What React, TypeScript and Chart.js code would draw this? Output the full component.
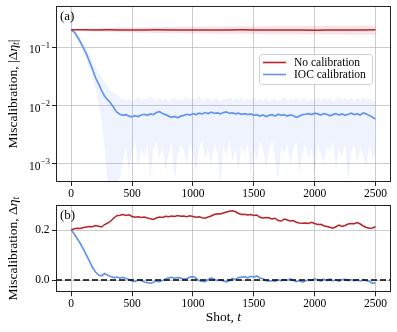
import React, { useEffect, useRef } from "react";
import { Chart, registerables } from "chart.js";

Chart.register(...registerables);

// ---------- data ----------
const SHOTS: number[] = Array.from({ length: 101 }, (_, i) => i * 25);
const SHOTS_COARSE: number[] = Array.from({ length: 26 }, (_, i) => i * 100);
const X_TICKS = [0, 500, 1000, 1500, 2000, 2500];
const X_MIN = -125;
const X_MAX = 2625;
const TOP_Y_TICKS = [1e-3, 1e-2, 1e-1];
const TOP_Y_EXPONENTS = ["\u22123", "\u22122", "\u22121"];
const BOTTOM_Y_TICKS = [0, 0.2];
const SERIES_NAMES = ["No calibration", "IOC calibration"];

// (a) |Δη_t| — no calibration (mean and band), every 100 shots
const NOCAL_ABS_MEAN = [
  0.200, 0.199, 0.198, 0.199, 0.198, 0.197, 0.198, 0.199, 0.198, 0.197, 0.198, 0.198, 0.197,
  0.198, 0.199, 0.198, 0.197, 0.197, 0.198, 0.197, 0.196, 0.197, 0.198, 0.197, 0.198, 0.199,
];
const NOCAL_ABS_UPPER = [
  0.200, 0.208, 0.212, 0.215, 0.217, 0.219, 0.221, 0.222, 0.223, 0.224, 0.225, 0.226, 0.227,
  0.228, 0.229, 0.229, 0.230, 0.231, 0.232, 0.232, 0.233, 0.234, 0.234, 0.235, 0.236, 0.236,
];
const NOCAL_ABS_LOWER = [
  0.200, 0.190, 0.186, 0.183, 0.181, 0.179, 0.177, 0.176, 0.175, 0.174, 0.173, 0.172, 0.171,
  0.170, 0.170, 0.169, 0.168, 0.168, 0.167, 0.166, 0.166, 0.165, 0.165, 0.164, 0.164, 0.163,
];

// (a) |Δη_t| — IOC calibration, every 25 shots
const IOC_ABS_MEAN = [
  0.200, 0.182, 0.153, 0.124, 0.098, 0.077, 0.057, 0.042, 0.030, 0.0235, 0.0180, 0.0145, 0.0125,
  0.0110, 0.0092, 0.0077, 0.0071,
  0.0068, 0.0070, 0.0066, 0.0064, 0.0067, 0.0065, 0.0069, 0.0071, 0.0068, 0.0072, 0.0070, 0.0076,
  0.0079, 0.0073, 0.0070, 0.0066, 0.0063, 0.0065, 0.0062, 0.0066,
  0.0068, 0.0071, 0.0069, 0.0073, 0.0070, 0.0074, 0.0072, 0.0076, 0.0073, 0.0077, 0.0074, 0.0075,
  0.0072, 0.0076, 0.0078, 0.0074, 0.0075, 0.0072, 0.0074, 0.0071,
  0.0073, 0.0070, 0.0072, 0.0068, 0.0070, 0.0066, 0.0069, 0.0065, 0.0068, 0.0070, 0.0066, 0.0071,
  0.0068, 0.0070, 0.0066, 0.0069, 0.0067, 0.0063, 0.0066, 0.0070,
  0.0071, 0.0073, 0.0070, 0.0074, 0.0072, 0.0069, 0.0073, 0.0071, 0.0067, 0.0070, 0.0073, 0.0069,
  0.0072, 0.0068, 0.0071, 0.0074, 0.0070, 0.0072, 0.0069, 0.0075,
  0.0072, 0.0068, 0.0063, 0.0059,
];
const IOC_ABS_UPPER = [
  0.210, 0.196, 0.170, 0.142, 0.116, 0.094, 0.074, 0.058, 0.046, 0.037, 0.030, 0.025, 0.021,
  0.018, 0.0165, 0.015, 0.0138,
  0.0130, 0.0122, 0.0135, 0.0118, 0.0127, 0.0140, 0.0121, 0.0132, 0.0125, 0.0145, 0.0128, 0.0120,
  0.0136, 0.0124, 0.0131, 0.0117, 0.0128, 0.0138, 0.0122, 0.0130,
  0.0126, 0.0142, 0.0121, 0.0133, 0.0127, 0.0148, 0.0124, 0.0130, 0.0137, 0.0122, 0.0129, 0.0135,
  0.0119, 0.0132, 0.0126, 0.0141, 0.0123, 0.0131, 0.0128, 0.0136,
  0.0121, 0.0134, 0.0127, 0.0145, 0.0122, 0.0130, 0.0124, 0.0138, 0.0120, 0.0129, 0.0133, 0.0118,
  0.0127, 0.0139, 0.0123, 0.0131, 0.0125, 0.0143, 0.0122, 0.0128,
  0.0135, 0.0121, 0.0130, 0.0126, 0.0140, 0.0123, 0.0132, 0.0127, 0.0136, 0.0120, 0.0129, 0.0144,
  0.0124, 0.0131, 0.0126, 0.0138, 0.0122, 0.0133, 0.0127, 0.0139,
  0.0125, 0.0130, 0.0121, 0.0117,
];
const IOC_ABS_LOWER = [
  0.190, 0.169, 0.137, 0.107, 0.082, 0.062, 0.043, 0.030, 0.019, 0.011, 0.0055, 0.0018, 0.0004,
  0.0003, 0.0003, 0.0004, 0.0006,
  0.0011, 0.0019, 0.0007, 0.0016, 0.0024, 0.0009, 0.0018, 0.0013, 0.0022, 0.0006, 0.0017, 0.0025,
  0.0012, 0.0020, 0.0008, 0.0015, 0.0023, 0.0005, 0.0014, 0.0021,
  0.0017, 0.0010, 0.0024, 0.0015, 0.0007, 0.0019, 0.0026, 0.0012, 0.0018, 0.0009, 0.0022, 0.0016,
  0.0004, 0.0020, 0.0014, 0.0025, 0.0011, 0.0018, 0.0008, 0.0021,
  0.0015, 0.0023, 0.0006, 0.0017, 0.0012, 0.0024, 0.0019, 0.0009, 0.0016, 0.0026, 0.0013, 0.0005,
  0.0020, 0.0015, 0.0022, 0.0010, 0.0018, 0.0024, 0.0007, 0.0016,
  0.0021, 0.0012, 0.0019, 0.0006, 0.0023, 0.0015, 0.0010, 0.0020, 0.0017, 0.0025, 0.0008, 0.0018,
  0.0013, 0.0022, 0.0005, 0.0016, 0.0021, 0.0011, 0.0019, 0.0014,
  0.0009, 0.0020, 0.0012, 0.0016,
];

// (b) signed Δη_t, every 25 shots
const NOCAL_SIGNED = [
  0.200, 0.205, 0.207, 0.206, 0.210, 0.212, 0.214, 0.213, 0.218, 0.215, 0.212, 0.222, 0.228,
  0.236, 0.248, 0.257, 0.259, 0.262, 0.258, 0.261, 0.254, 0.251, 0.253, 0.250, 0.252, 0.248,
  0.245, 0.242, 0.248, 0.252, 0.250, 0.255, 0.253, 0.256, 0.254, 0.258, 0.255, 0.256, 0.253,
  0.257, 0.254, 0.251, 0.253, 0.249, 0.247, 0.252, 0.256, 0.262, 0.265, 0.264, 0.268, 0.272,
  0.275, 0.277, 0.273, 0.266, 0.262, 0.263, 0.260, 0.262, 0.258, 0.260, 0.251, 0.248, 0.250,
  0.249, 0.244, 0.247, 0.238, 0.236, 0.244, 0.240, 0.236, 0.238, 0.231, 0.228, 0.227, 0.228,
  0.226, 0.231, 0.226, 0.222, 0.223, 0.217, 0.214, 0.211, 0.207, 0.213, 0.220, 0.214, 0.218,
  0.224, 0.226, 0.225, 0.230, 0.224, 0.216, 0.210, 0.207, 0.208, 0.213,
];
const IOC_SIGNED = [
  0.200, 0.184, 0.165, 0.146, 0.124, 0.100, 0.076, 0.050, 0.032, 0.020, 0.017, 0.026, 0.019,
  0.014, 0.010, 0.012, 0.008, 0.011, 0.006, 0.002, -0.004, -0.006, 0.001, -0.002, -0.008, -0.010,
  -0.013, -0.009, -0.004, -0.006, -0.002, 0.004, 0.009, 0.011, 0.007, 0.010, 0.008, 0.003, 0.006,
  0.012, 0.014, 0.008, -0.002, -0.005, -0.006, 0.002, 0.008, 0.003, -0.002, 0.001, -0.004, -0.007,
  -0.003, 0.006, 0.002, 0.010, 0.012, 0.013, 0.009, 0.015, 0.012, 0.016, 0.008, 0.005, -0.003,
  -0.004, -0.002, -0.005, 0.001, -0.003, 0.002, -0.001, 0.004, -0.002, -0.006, -0.003, -0.008,
  -0.004, 0.002, -0.001, 0.005, 0.001, -0.004, 0.003, -0.002, 0.004, -0.003, 0.001, -0.005, 0.002,
  0.003, -0.002, 0.002, -0.003, 0.001, -0.004, 0.001, -0.003, -0.005, -0.013, -0.011,
];
const ZERO_LINE_X = [X_MIN, X_MAX];
const ZERO_LINE_Y = [0, 0];

// ---------- styles ----------
const SERIF = '"Liberation Serif", "Times New Roman", serif';
const RED = "#b82228";
const BLUE = "#6495ed";
const RED_BAND = "rgba(190,40,40,0.12)";
const BLUE_BAND = "rgba(100,149,237,0.11)";
const GRID = "rgba(170,170,170,0.6)";
const TRANSPARENT = "rgba(0,0,0,0)";

const pts = (xs: number[], ys: number[]) => xs.map((x, i) => ({ x, y: ys[i] }));

type Part = { text: string; font: string; dy?: number };

function drawParts(ctx: CanvasRenderingContext2D, parts: Part[], cx: number, cy: number, rotate: boolean) {
  ctx.save();
  ctx.translate(cx, cy);
  if (rotate) ctx.rotate(-Math.PI / 2);
  let total = 0;
  for (const p of parts) {
    ctx.font = p.font;
    total += ctx.measureText(p.text).width;
  }
  let x = -total / 2;
  ctx.textAlign = "left";
  ctx.textBaseline = "middle";
  ctx.fillStyle = "#000";
  for (const p of parts) {
    ctx.font = p.font;
    ctx.fillText(p.text, x, p.dy || 0);
    x += ctx.measureText(p.text).width;
  }
  ctx.restore();
}

function drawFrame(ctx: CanvasRenderingContext2D, a: any) {
  ctx.save();
  ctx.strokeStyle = "#222";
  ctx.lineWidth = 1;
  const l = Math.round(a.left) + 0.5;
  const t = Math.round(a.top) + 0.5;
  const r = Math.round(a.right) - 0.5;
  const b = Math.round(a.bottom) - 0.5;
  ctx.strokeRect(l, t, r - l, b - t);
  ctx.restore();
}

const LABEL_FONT = `13.5px ${SERIF}`;
const LABEL_IT = `italic 13.5px ${SERIF}`;
const SUB_IT = `italic 9.5px ${SERIF}`;

const topPlugin = {
  id: "topDecor",
  afterDraw(chart: any) {
    const ctx: CanvasRenderingContext2D = chart.ctx;
    const a = chart.chartArea;
    drawFrame(ctx, a);
    // y tick labels 10^k
    const ys = chart.scales.y;
    TOP_Y_TICKS.forEach((v, i) => {
      const py = ys.getPixelForValue(v);
      const right = a.left - 6;
      ctx.save();
      ctx.fillStyle = "#000";
      ctx.textAlign = "right";
      ctx.textBaseline = "alphabetic";
      ctx.font = `8.5px ${SERIF}`;
      const ew = ctx.measureText(TOP_Y_EXPONENTS[i]).width;
      ctx.fillText(TOP_Y_EXPONENTS[i], right, py + 0.5);
      ctx.font = `11.5px ${SERIF}`;
      ctx.fillText("10", right - ew - 0.5, py + 6);
      ctx.restore();
    });
    // y title
    drawParts(
      ctx,
      [
        { text: "Miscalibration, |\u0394", font: LABEL_FONT },
        { text: "\u03b7", font: LABEL_IT },
        { text: "t", font: SUB_IT, dy: 3 },
        { text: "|", font: LABEL_FONT },
      ],
      13,
      (a.top + a.bottom) / 2,
      true
    );
    // panel label
    ctx.save();
    ctx.font = `13px ${SERIF}`;
    ctx.fillStyle = "#000";
    ctx.textBaseline = "middle";
    ctx.fillText("(a)", 60, 16.5);
    ctx.restore();
    // legend
    ctx.save();
    const lx = 259.5, ly = 54.5, lw = 113, lh = 30;
    ctx.beginPath();
    (ctx as any).roundRect(lx, ly, lw, lh, 3);
    ctx.fillStyle = "rgba(255,255,255,0.85)";
    ctx.fill();
    ctx.strokeStyle = "#d0d0d0";
    ctx.lineWidth = 1;
    ctx.stroke();
    const rows = [
      { y: 62.5, color: RED, name: SERIES_NAMES[0] },
      { y: 74.5, color: BLUE, name: SERIES_NAMES[1] },
    ];
    for (const r of rows) {
      ctx.strokeStyle = r.color;
      ctx.lineWidth = 1.6;
      ctx.beginPath();
      ctx.moveTo(263, r.y);
      ctx.lineTo(286, r.y);
      ctx.stroke();
      ctx.fillStyle = "#000";
      ctx.font = `11.5px ${SERIF}`;
      ctx.textBaseline = "middle";
      ctx.textAlign = "left";
      ctx.fillText(r.name, 294, r.y + 0.5);
    }
    ctx.restore();
  },
};

const bottomPlugin = {
  id: "bottomDecor",
  afterDraw(chart: any) {
    const ctx: CanvasRenderingContext2D = chart.ctx;
    const a = chart.chartArea;
    drawFrame(ctx, a);
    drawParts(
      ctx,
      [
        { text: "Miscalibration, \u0394", font: LABEL_FONT },
        { text: "\u03b7", font: LABEL_IT },
        { text: "t", font: SUB_IT, dy: 3 },
      ],
      13,
      (a.top + a.bottom) / 2,
      true
    );
    drawParts(
      ctx,
      [
        { text: "Shot, ", font: LABEL_FONT },
        { text: "t", font: LABEL_IT },
      ],
      (a.left + a.right) / 2,
      132,
      false
    );
    ctx.save();
    ctx.font = `13px ${SERIF}`;
    ctx.fillStyle = "#000";
    ctx.textBaseline = "middle";
    ctx.fillText("(b)", 60, 30.5);
    ctx.restore();
  },
};

const xScale = (height: number) => ({
  type: "linear",
  min: X_MIN,
  max: X_MAX,
  afterBuildTicks: (s: any) => {
    s.ticks = X_TICKS.map((v) => ({ value: v }));
  },
  afterFit: (s: any) => {
    s.height = height;
  },
  ticks: {
    font: { family: SERIF, size: 11.5 },
    color: "#000",
    padding: 1,
    maxRotation: 0,
    autoSkip: false,
    callback: (v: any) => String(v),
  },
  grid: { color: GRID, lineWidth: 1, drawTicks: true, tickLength: 4, tickColor: "#222", tickWidth: 1 },
  border: { display: false },
});

export default function App() {
  const topRef = useRef<HTMLCanvasElement | null>(null);
  const botRef = useRef<HTMLCanvasElement | null>(null);

  useEffect(() => {
    const line = (data: any[], color: string, width: number, extra: any = {}) => ({
      data,
      borderColor: color,
      borderWidth: width,
      pointRadius: 0,
      fill: false,
      tension: 0,
      ...extra,
    });
    const band = (data: any[], bg: string | null) => ({
      data,
      borderColor: TRANSPARENT,
      borderWidth: 0,
      pointRadius: 0,
      backgroundColor: bg || TRANSPARENT,
      fill: bg ? "+1" : false,
      tension: 0,
    });

    const top = new Chart(topRef.current as HTMLCanvasElement, {
      type: "line",
      data: {
        datasets: [
          line(pts(SHOTS_COARSE, NOCAL_ABS_MEAN), RED, 1.5, { label: SERIES_NAMES[0] }),
          line(pts(SHOTS, IOC_ABS_MEAN), BLUE, 1.7, { label: SERIES_NAMES[1] }),
          band(pts(SHOTS_COARSE, NOCAL_ABS_UPPER), RED_BAND),
          band(pts(SHOTS_COARSE, NOCAL_ABS_LOWER), null),
          band(pts(SHOTS, IOC_ABS_UPPER), BLUE_BAND),
          band(pts(SHOTS, IOC_ABS_LOWER), null),
        ] as any,
      },
      options: {
        animation: false,
        responsive: false,
        devicePixelRatio: 1,
        layout: { padding: { top: 6, right: 6.3, bottom: 0, left: 0 } },
        plugins: {
          legend: { display: false },
          tooltip: { enabled: false },
          filler: { drawTime: "beforeDatasetsDraw" },
        } as any,
        scales: {
          x: xScale(18) as any,
          y: {
            type: "logarithmic",
            min: 4.9e-4,
            max: 0.51,
            afterBuildTicks: (s: any) => {
              s.ticks = TOP_Y_TICKS.map((v) => ({ value: v }));
            },
            afterFit: (s: any) => {
              s.width = 56;
            },
            ticks: { display: false },
            grid: { color: GRID, lineWidth: 1, drawTicks: true, tickLength: 4, tickColor: "#222", tickWidth: 1 },
            border: { display: false },
          } as any,
        },
      },
      plugins: [topPlugin],
    });

    const bottom = new Chart(botRef.current as HTMLCanvasElement, {
      type: "line",
      data: {
        datasets: [
          line(pts(ZERO_LINE_X, ZERO_LINE_Y), "#000", 1.5, { borderDash: [6, 3] }),
          line(pts(SHOTS, NOCAL_SIGNED), RED, 1.5, { label: SERIES_NAMES[0] }),
          line(pts(SHOTS, IOC_SIGNED), BLUE, 1.7, { label: SERIES_NAMES[1] }),
        ] as any,
      },
      options: {
        animation: false,
        responsive: false,
        devicePixelRatio: 1,
        layout: { padding: { top: 20, right: 6.3, bottom: 0, left: 0 } },
        plugins: { legend: { display: false }, tooltip: { enabled: false } },
        scales: {
          x: xScale(39.7) as any,
          y: {
            type: "linear",
            min: -0.049,
            max: 0.3,
            afterBuildTicks: (s: any) => {
              s.ticks = BOTTOM_Y_TICKS.map((v) => ({ value: v }));
            },
            afterFit: (s: any) => {
              s.width = 56;
            },
            ticks: {
              font: { family: SERIF, size: 11.5 },
              color: "#000",
              padding: 2.5,
              callback: (v: any) => Number(v).toFixed(1),
            },
            grid: { color: GRID, lineWidth: 1, drawTicks: true, tickLength: 4, tickColor: "#222", tickWidth: 1 },
            border: { display: false },
          } as any,
        },
      },
      plugins: [bottomPlugin],
    });

    return () => {
      top.destroy();
      bottom.destroy();
    };
  }, []);

  return (
    <div style={{ position: "fixed", left: 0, top: 0, width: 397, height: 332, background: "#fff" }}>
      <canvas ref={topRef} width={397} height={200} style={{ position: "absolute", left: 0, top: 0, width: 397, height: 200 }} />
      <canvas ref={botRef} width={397} height={147} style={{ position: "absolute", left: 0, top: 185, width: 397, height: 147 }} />
    </div>
  );
}
